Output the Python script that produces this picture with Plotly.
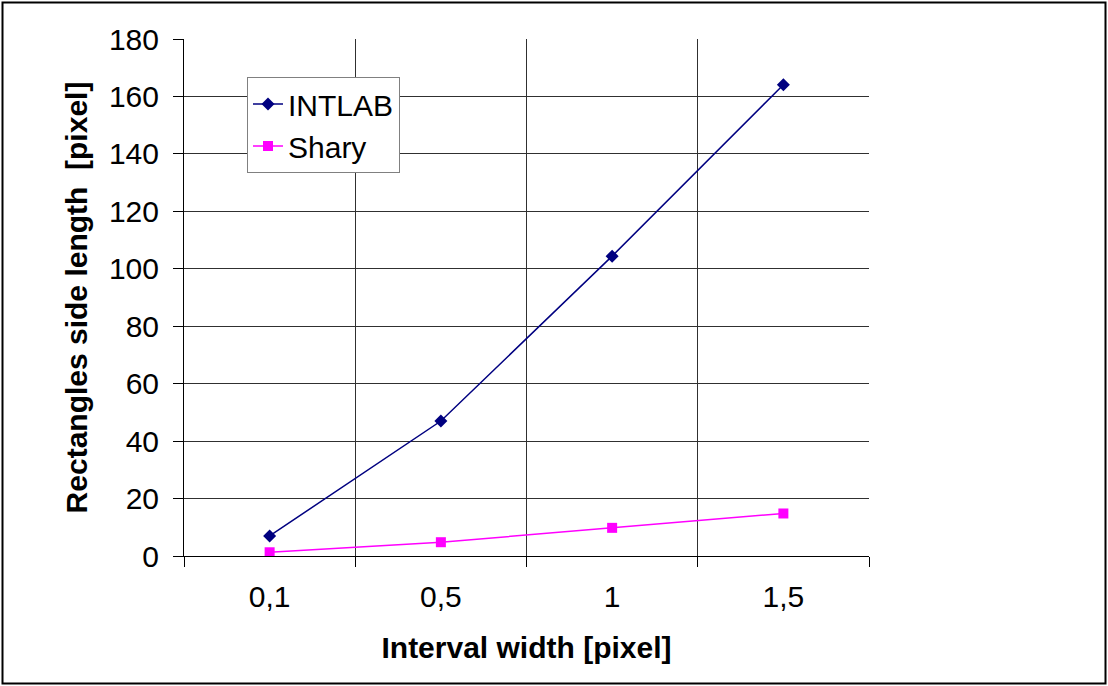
import plotly.graph_objects as go

categories = ["0,1", "0,5", "1", "1,5"]
intlab = [7.0, 47.0, 104.4, 164.1]
shary = [1.3, 4.8, 9.8, 14.8]
y_ticks = [0, 20, 40, 60, 80, 100, 120, 140, 160, 180]

W, H = 1108, 686
L, R, T, B = 184, 239, 39, 130
PW, PH = W - L - R, H - T - B

def px2paper_x(px):
    return (px - L) / PW

def px2paper_y(py):
    return (H - B - py) / PH

FONT = "Liberation Sans, Arial, sans-serif"
FS = 30

fig = go.Figure()
fig.add_trace(go.Scatter(
    x=categories, y=intlab, name="INTLAB", mode="lines+markers",
    line=dict(color="#000080", width=1.5),
    marker=dict(symbol="diamond", size=10, color="#000080"),
))
fig.add_trace(go.Scatter(
    x=categories, y=shary, name="Shary", mode="lines+markers",
    line=dict(color="#FF00FF", width=1.5),
    marker=dict(symbol="square", size=10, color="#FF00FF"),
))

fig.update_layout(
    width=W, height=H,
    margin=dict(l=L, r=R, t=T, b=B, autoexpand=False),
    paper_bgcolor="white", plot_bgcolor="white",
    font=dict(family=FONT, size=FS, color="black"),
    showlegend=True,
    legend=dict(
        x=px2paper_x(247), y=px2paper_y(77), xanchor="left", yanchor="top",
        bgcolor="white", bordercolor="#808080", borderwidth=1,
        font=dict(family=FONT, size=FS, color="black"),
        itemwidth=30, tracegroupgap=0,
    ),
    xaxis=dict(
        type="category", range=[-0.5, 3.5], tickson="boundaries",
        showgrid=True, gridcolor="#303030", gridwidth=1,
        showline=True, linecolor="black", linewidth=1,
        ticks="outside", ticklen=10, tickcolor="black",
        tickfont=dict(family=FONT, size=FS),
        ticklabelstandoff=14,
        title=dict(text="<b>Interval width [pixel]</b>", standoff=24,
                   font=dict(family=FONT, size=FS)),
        zeroline=False,
    ),
    yaxis=dict(
        range=[0, 180], tickvals=y_ticks,
        showgrid=True, gridcolor="#303030", gridwidth=1,
        showline=True, linecolor="black", linewidth=1,
        ticks="outside", ticklen=10, tickcolor="black",
        tickfont=dict(family=FONT, size=FS),
        ticklabelstandoff=8,
        title=dict(text="<b>Rectangles side length\u00a0 [pixel]</b>", standoff=12,
                   font=dict(family=FONT, size=FS)),
        zeroline=False,
    ),
)

fig.add_shape(
    type="rect", xref="paper", yref="paper",
    x0=px2paper_x(2.5), x1=px2paper_x(1105.5),
    y0=px2paper_y(683.5), y1=px2paper_y(2.5),
    line=dict(color="black", width=2), fillcolor="rgba(0,0,0,0)",
)

fig.write_html("out.html")
